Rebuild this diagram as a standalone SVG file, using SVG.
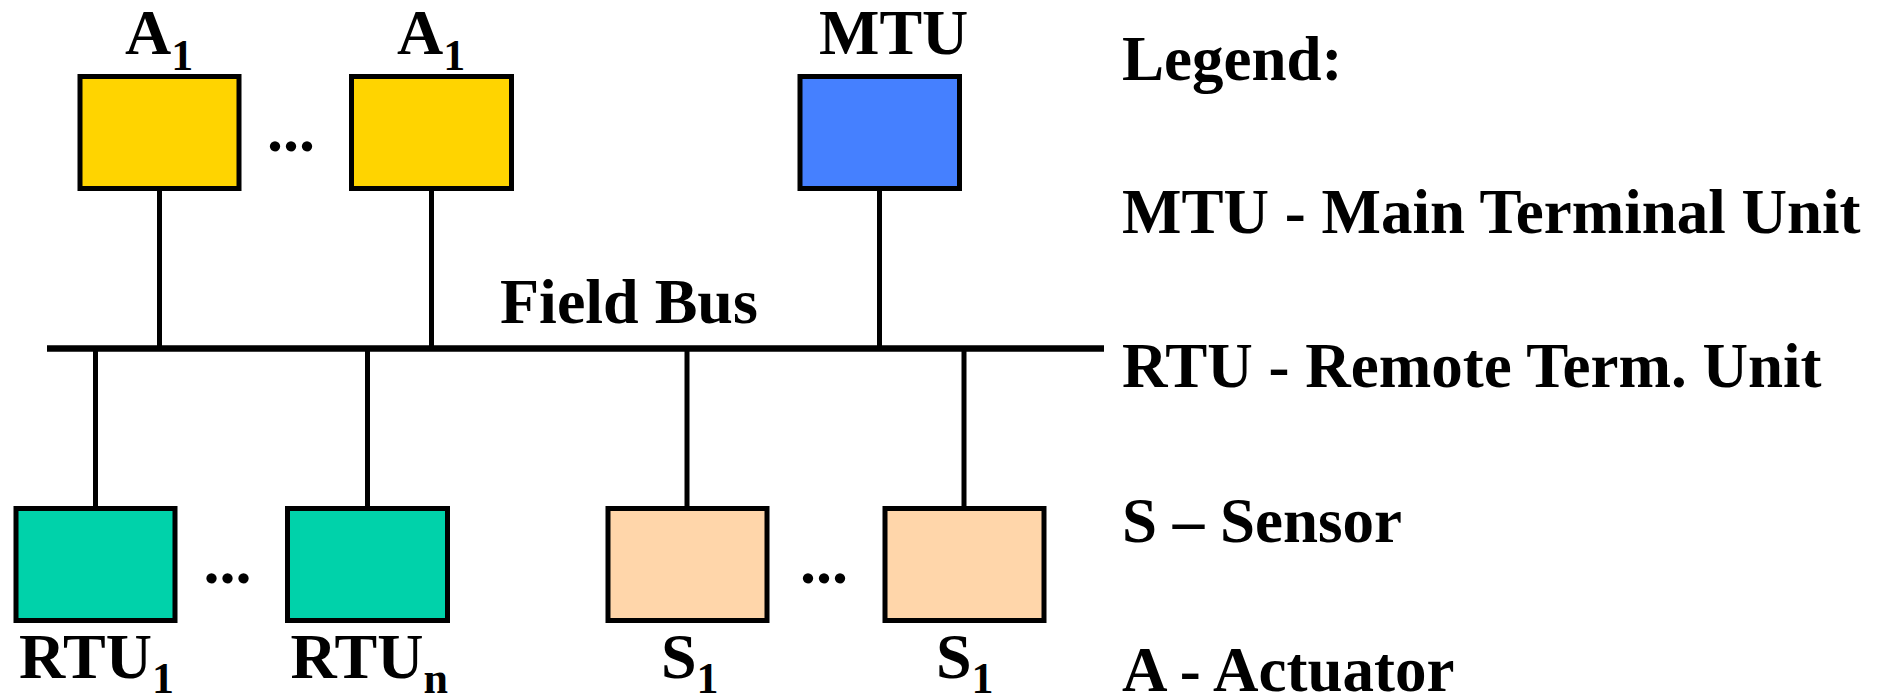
<svg xmlns="http://www.w3.org/2000/svg" width="1892" height="696" viewBox="0 0 1892 696">
<style>
text{font-family:"Liberation Serif","Times New Roman",serif;font-weight:bold;fill:#000}
.lbl{font-size:64px}
.sub{font-size:44px}
.leg{font-size:63px}
.box{stroke:#000;stroke-width:5}
.act{fill:#FFD400}
.mtu{fill:#4580FF}
.rtu{fill:#00D2AA}
.sen{fill:#FFD6AA}
.wire{stroke:#000;stroke-width:5;fill:none}
.bus{stroke:#000;stroke-width:6.5;fill:none}
</style>
<rect width="1892" height="696" fill="#fff"/>
<g id="connectors">
<line class="bus" x1="47" y1="348.5" x2="1104" y2="348.5"/>
<line class="wire" x1="159.5" y1="190" x2="159.5" y2="348"/>
<line class="wire" x1="431.5" y1="190" x2="431.5" y2="348"/>
<line class="wire" x1="879.5" y1="190" x2="879.5" y2="348"/>
<line class="wire" x1="95.5" y1="349" x2="95.5" y2="507"/>
<line class="wire" x1="367.5" y1="349" x2="367.5" y2="507"/>
<line class="wire" x1="687" y1="349" x2="687" y2="507"/>
<line class="wire" x1="964" y1="349" x2="964" y2="507"/>
</g>
<g id="busLabel"><text class="lbl" x="500" y="323">Field Bus</text></g>
<g id="A1a">
<rect class="box act" x="80" y="76.5" width="159" height="112"/>
<text class="lbl" x="125" y="54">A<tspan class="sub" dy="16">1</tspan></text>
</g>
<g id="dotsTop"><text class="lbl" x="267" y="151">...</text></g>
<g id="A1b">
<rect class="box act" x="351.5" y="76.5" width="160" height="112"/>
<text class="lbl" x="397" y="54">A<tspan class="sub" dy="16">1</tspan></text>
</g>
<g id="MTU">
<rect class="box mtu" x="800" y="76.5" width="159.5" height="112"/>
<text class="lbl" x="819" y="54">MTU</text>
</g>
<g id="RTU1">
<rect class="box rtu" x="16" y="508.5" width="159" height="112"/>
<text class="lbl" x="19" y="678">RTU<tspan class="sub" dy="15">1</tspan></text>
</g>
<g id="dotsRTU"><text class="lbl" x="203.5" y="583">...</text></g>
<g id="RTUn">
<rect class="box rtu" x="287.5" y="508.5" width="160" height="112"/>
<text class="lbl" x="290.5" y="678">RTU<tspan class="sub" dy="15">n</tspan></text>
</g>
<g id="S1a">
<rect class="box sen" x="608" y="508.5" width="159" height="112"/>
<text class="lbl" x="661" y="678">S<tspan class="sub" dy="15">1</tspan></text>
</g>
<g id="dotsS"><text class="lbl" x="800" y="583">...</text></g>
<g id="S1b">
<rect class="box sen" x="885" y="508.5" width="159" height="112"/>
<text class="lbl" x="936" y="678">S<tspan class="sub" dy="15">1</tspan></text>
</g>
<g id="legend">
<text class="leg" x="1122" y="80">Legend:</text>
<text class="leg" x="1122" y="233">MTU - Main Terminal Unit</text>
<text class="leg" x="1122" y="387">RTU - Remote Term. Unit</text>
<text class="leg" x="1122" y="542">S – Sensor</text>
<text class="leg" x="1122" y="691">A - Actuator</text>
</g>
</svg>
